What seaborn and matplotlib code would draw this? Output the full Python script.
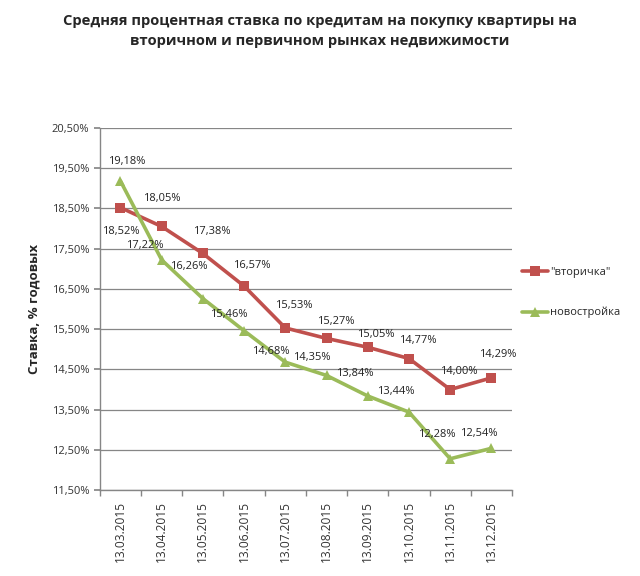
import numpy as np
import pandas as pd
import matplotlib
matplotlib.use("Agg")
import matplotlib.pyplot as plt
import seaborn as sns

dates = ['13.03.2015', '13.04.2015', '13.05.2015', '13.06.2015', '13.07.2015',
         '13.08.2015', '13.09.2015', '13.10.2015', '13.11.2015', '13.12.2015']
secondary = [18.52, 18.05, 17.38, 16.57, 15.53, 15.27, 15.05, 14.77, 14.00, 14.29]
new_build = [19.18, 17.22, 16.26, 15.46, 14.68, 14.35, 13.84, 13.44, 12.28, 12.54]
series_names = ['"вторичка"', 'новостройка']
y_ticks = [11.5, 12.5, 13.5, 14.5, 15.5, 16.5, 17.5, 18.5, 19.5, 20.5]

sns.set_theme(style="white")
plt.rcParams['font.family'] = ['Open Sans', 'DejaVu Sans']

n = len(dates)
df = pd.DataFrame({
    'idx': np.concatenate([np.arange(n), np.arange(n)]),
    'rate': secondary + new_build,
    'series': np.repeat(series_names, n),
})

red = '#C0504D'
green = '#9BBB59'

fig = plt.figure(figsize=(6.4, 5.76), dpi=100)
ax = fig.add_axes([0.156, 0.149, 0.644, 0.629])

sns.lineplot(data=df, x='idx', y='rate', hue='series', style='series',
             palette={series_names[0]: red, series_names[1]: green},
             markers={series_names[0]: 's', series_names[1]: '^'},
             dashes=False, linewidth=2.6, markersize=7, markeredgewidth=0,
             ax=ax)

def fmt(v):
    return f"{v:.2f}%".replace('.', ',')

# label offsets in pixels (dx, dy)
sec_off = [(0, -24), (0, 28), (9, 22), (8, 21), (8, 22), (9, 17), (8, 13), (9, 18), (9, 18), (6, 23)]
new_off = [(6, 20), (-17, 14), (-14, 32), (-15, 16), (-15, 11), (-15, 18), (-13, 22), (-13, 21), (-13, 24), (-13, 15)]
for i in range(n):
    ax.annotate(fmt(secondary[i]), (i, secondary[i]), xytext=sec_off[i],
                textcoords='offset pixels', ha='center', va='center', fontsize=8, color='#222222')
    ax.annotate(fmt(new_build[i]), (i, new_build[i]), xytext=new_off[i],
                textcoords='offset pixels', ha='center', va='center', fontsize=8, color='#222222')

ax.set_xlim(-0.5, n - 0.5)
ax.set_ylim(11.5, 20.5)
ax.set_yticks(y_ticks)
ax.set_yticklabels([fmt(v) for v in y_ticks], fontsize=8, color='#333333')
ax.yaxis.grid(True, color='#868686', linewidth=0.9)
ax.xaxis.grid(False)

ax.set_xticks(np.arange(n))
ax.set_xticklabels(dates, rotation=90, fontsize=8.6, color='#333333')
ax.set_xticks(np.arange(-0.5, n, 1), minor=True)
ax.tick_params(axis='x', which='major', length=0, pad=8)
ax.tick_params(axis='x', which='minor', length=4, color='#868686', bottom=True)
ax.tick_params(axis='y', which='major', length=4, color='#868686', left=True)

for s in ['top', 'right']:
    ax.spines[s].set_visible(False)
for s in ['left', 'bottom']:
    ax.spines[s].set_color('#868686')
    ax.spines[s].set_linewidth(1)

ax.set_xlabel('')
ax.set_ylabel('Ставка, % годовых', fontsize=9.5, fontweight='bold', labelpad=8)

ax.legend(loc='center left', bbox_to_anchor=(1.01, 0.545), frameon=False,
          fontsize=8, labelspacing=2.6, handlelength=2.4, handletextpad=0.15,
          borderpad=0)

fig.suptitle('Средняя процентная ставка по кредитам на покупку квартиры на\n'
             'вторичном и первичном рынках недвижимости',
             x=0.5, y=0.975, fontsize=10.6, fontweight='bold', linespacing=1.5)

fig.savefig('out.png', dpi=100)
